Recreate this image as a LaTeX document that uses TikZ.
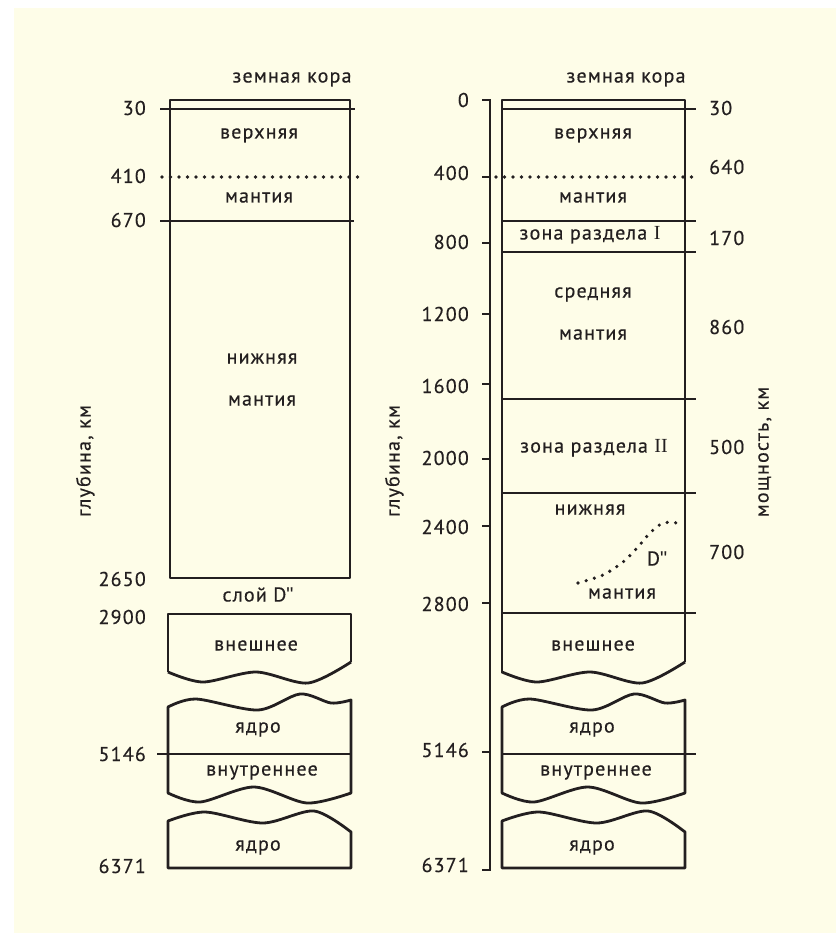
\documentclass[tikz,border=0pt]{standalone}
\usepackage{fontspec}
\setmainfont{PT Sans}[LetterSpace=6, FakeBold=0.4]
\newfontfamily\quotefont{Liberation Sans}
\newfontfamily\romanfont{Liberation Serif}
\usetikzlibrary{positioning}
\definecolor{cream}{RGB}{254,253,232}
\definecolor{ink}{RGB}{35,31,32}
\newcommand{\dq}{{\quotefont"}}
\newcommand{\rI}{{\romanfont I}}

\begin{document}
\begin{tikzpicture}[
    x=1pt, y=-1pt,
    font=\fontsize{20}{24}\selectfont,
    text=ink,
    layer/.style={draw=ink, line width=2.8pt, line join=round},
    bound/.style={draw=ink, line width=2.4pt},
    dotline/.style={draw=ink, line width=3.6pt, line cap=round, dash pattern=on 0pt off 8.5pt},
    axis/.style={draw=ink, line width=1.4pt},
    num/.style={inner sep=0pt},
    lbl/.style={inner sep=0pt, text height=1ex, text depth=0pt},
    outerwave/.pic={\draw[layer] plot[smooth] coordinates {(0,672) (35,682) (88,672) (140,683) (183,662)};},
    innercore/.pic={\draw[layer] plot[smooth] coordinates {(0,707) (28,699) (90,710) (132,694) (163,703) (183,700)}
        -- (183,793) -- plot[smooth] coordinates {(183,793) (139,803) (86,787) (32,802) (0,793)} -- cycle;},
    lastcore/.pic={\draw[layer] plot[smooth] coordinates {(0,821) (37,812) (95,823) (146,811) (183,832)}
        -- (183,868) -- (0,868) -- cycle;}
]
\useasboundingbox (0,0) rectangle (836,933);
\fill[cream] (14,8) rectangle (836,933);

% Left column
\draw[layer] (170,100) rectangle (350,578);
\draw[bound] (160,109) -- (355,109);
\draw[dotline] (162,177) -- (365,177);
\draw[bound] (160,221) -- (354,221);
\draw[layer] (168,672) -- (168,614) -- (351,614) -- (351,662);
\pic at (168,0) {outerwave};
\pic at (168,0) {innercore};
\pic at (168,0) {lastcore};
\draw[bound] (157,754) -- (351,754);

\node[num, anchor=east] (l30) at (146,108) {30};
\node[num, anchor=east] (l410) at (146,176) {410};
\node[num, anchor=east] (l670) at (146,220) {670};
\node[num, anchor=east] (l2650) at (146,579) {2650};
\node[num, anchor=east] (l2900) at (146,617) {2900};
\node[num, anchor=east] (l5146) at (146,754) {5146};
\node[num, anchor=east] (l6371) at (146,866) {6371};

\node[lbl] (crustL) at (292,80) {земная кора};
\node[lbl] (upperL) at (259,136) {верхняя};
\node[lbl] (mantleL) at (259,200) {мантия};
\node[lbl] (lowerL) at (262,361) {нижняя};
\node[lbl] (lowmantL) at (262,403) {мантия};
\node[lbl] (layerD) at (258,599) {слой D\dq};
\node[lbl] (outerL) at (256,648) {внешнее};
\node[lbl] (coreL) at (258,730) {ядро};
\node[lbl] (innerL) at (262,773) {внутреннее};
\node[lbl] (lastL) at (258,848) {ядро};
\node[lbl, rotate=90] (depthL) at (88,461) {глубина, км};

% Right column
\draw[axis] (482,100) -- (490,100) -- (490,870) -- (482,870);
\foreach \y in {177,243,314,384,459,526,603,752}
  \draw[axis] (482,\y) -- (490,\y);
\draw[layer] (502,673) -- (502,100) -- (685,100) -- (685,662);
\pic at (502,0) {outerwave};
\pic at (502,0) {innercore};
\pic at (502,0) {lastcore};
\draw[bound] (502,109) -- (696,109);
\draw[dotline] (496,177) -- (699,177);
\draw[bound] (502,221) -- (696,221);
\draw[bound] (502,252) -- (696,252);
\draw[bound] (502,399) -- (696,399);
\draw[bound] (502,493) -- (696,493);
\draw[bound] (502,613) -- (696,613);
\draw[bound] (502,754) -- (696,754);
\draw[dotline] plot[smooth] coordinates {(578,583) (603,575) (623,562) (637,548) (650,533) (663,523) (677,523)};

\node[num, anchor=east] (r0) at (469,100) {0};
\node[num, anchor=east] (r400) at (469,173) {400};
\node[num, anchor=east] (r800) at (469,242) {800};
\node[num, anchor=east] (r1200) at (469,314) {1200};
\node[num, anchor=east] (r1600) at (469,386) {1600};
\node[num, anchor=east] (r2000) at (469,458) {2000};
\node[num, anchor=east] (r2400) at (469,527) {2400};
\node[num, anchor=east] (r2800) at (469,604) {2800};
\node[num, anchor=east] (r5146) at (469,750) {5146};
\node[num, anchor=east] (r6371) at (469,865) {6371};

\node[num, anchor=west] (t30) at (709,108) {30};
\node[num, anchor=west] (t640) at (709,167) {640};
\node[num, anchor=west] (t170) at (709,238) {170};
\node[num, anchor=west] (t860) at (709,327) {860};
\node[num, anchor=west] (t500) at (709,447) {500};
\node[num, anchor=west] (t700) at (709,552) {700};

\node[lbl] (crustR) at (626,80) {земная кора};
\node[lbl] (upperR) at (593,136) {верхняя};
\node[lbl] (mantleR) at (593,200) {мантия};
\node[lbl] (zone1) at (590,237) {зона раздела \rI};
\node[lbl] (midR) at (593,295) {средняя};
\node[lbl] (midmantR) at (593,337) {мантия};
\node[lbl] (zone2) at (594,450) {зона раздела \rI\rI};
\node[lbl] (lowerR) at (590,512) {нижняя};
\node[lbl] (dlayer) at (657,563) {D\dq};
\node[lbl] (lowmantR) at (622,596) {мантия};
\node[lbl] (outerR) at (593,648) {внешнее};
\node[lbl] (coreR) at (592,730) {ядро};
\node[lbl] (innerR) at (596,773) {внутреннее};
\node[lbl] (lastR) at (592,848) {ядро};
\node[lbl, rotate=90] (depthR) at (397,461) {глубина, км};
\node[lbl, rotate=90] (thick) at (766,452) {мощность, км};
\end{tikzpicture}
\end{document}
